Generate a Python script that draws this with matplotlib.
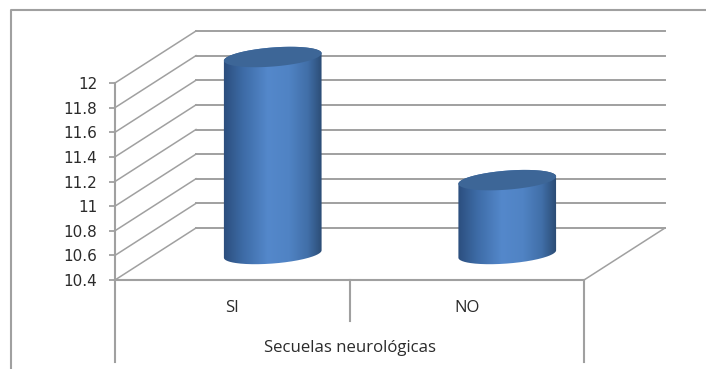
import numpy as np
import matplotlib
matplotlib.use('Agg')
import matplotlib.pyplot as plt
from matplotlib.path import Path
from matplotlib.patches import PathPatch
from matplotlib.colors import LinearSegmentedColormap
from matplotlib.transforms import IdentityTransform, ScaledTranslation

categorias = ['SI', 'NO']
valores = [12, 11]
ticks_y = [10.4, 10.6, 10.8, 11, 11.2, 11.4, 11.6, 11.8, 12]
etiquetas_y = ['10.4', '10.6', '10.8', '11', '11.2', '11.4', '11.6', '11.8', '12']
titulo_eje = 'Secuelas neurológicas'

W, H = 706, 369
GRIS = '#a0a0a0'
TEXTO = '#2b2b2b'
DX, DY = 81, 52   # profundidad del grafico en pixeles
RX, RY = 49, 9.5  # semiejes de la elipse del cilindro
GIRO = np.radians(4.5)

plt.rcParams['font.family'] = 'DejaVu Sans'
fig = plt.figure(figsize=(W / 100, H / 100), dpi=100)
fig.patch.set_facecolor('white')

# plano frontal del grafico
ax = fig.add_axes([115 / W, 1 - 280 / H, (584 - 115) / W, (280 - 83) / H])
ax.set_xlim(-0.5, 1.5)
ax.set_ylim(10.4, 12)
ax.patch.set_visible(False)
for s in ax.spines.values():
    s.set_visible(False)
ax.set_xticks([])
ax.set_yticks(ticks_y)
ax.set_yticklabels(etiquetas_y, fontsize=11, color=TEXTO)
ax.tick_params(axis='y', length=4.3, width=1.3, color=GRIS, pad=8.6)

px = 1 / 100  # pulgadas por pixel
fondo = ax.transData + ScaledTranslation(DX * px, DY * px, fig.dpi_scale_trans)
medio = ax.transData + ScaledTranslation(DX / 2 * px, DY / 2 * px, fig.dpi_scale_trans)

# lineas de la pared del fondo y su diagonal hasta el eje
for t in ticks_y:
    ax.plot([-0.5, 1.5], [t, t], transform=fondo, color=GRIS, lw=1.4, clip_on=False, zorder=1)
    a = ax.transData.transform((-0.5, t))
    ax.plot([a[0], a[0] + DX], [a[1], a[1] + DY], transform=IdentityTransform(),
            color=GRIS, lw=1.1, clip_on=False, zorder=1)

# suelo y ejes
a = ax.transData.transform((1.5, 10.4))
ax.plot([a[0], a[0] + DX], [a[1], a[1] + DY], transform=IdentityTransform(),
        color=GRIS, lw=1.1, clip_on=False, zorder=1)
ax.plot([-0.5, 1.5], [10.4, 10.4], color=GRIS, lw=1.5, clip_on=False, zorder=2)
abajo = ax.transAxes
ax.plot([0, 0], [-0.415, 1], transform=abajo, color=GRIS, lw=1.5, clip_on=False, zorder=2)
ax.plot([1, 1], [-0.415, 0], transform=abajo, color=GRIS, lw=1.5, clip_on=False, zorder=2)
ax.plot([0.5, 0.5], [-0.208, 0], transform=abajo, color=GRIS, lw=1.5, clip_on=False, zorder=2)

# cilindros
degradado = LinearSegmentedColormap.from_list('cil', [
    (0.0, '#2b4d7c'), (0.2, '#3d6ba6'), (0.45, '#5488cb'), (0.66, '#5083c4'),
    (0.85, '#416fa8'), (1.0, '#2a4a72')])
t_el = np.linspace(0, 2 * np.pi, 181)


def elipse(cx, cy):
    ex = RX * np.cos(t_el)
    ey = RY * np.sin(t_el)
    return np.column_stack([cx + ex * np.cos(GIRO) - ey * np.sin(GIRO),
                            cy + ex * np.sin(GIRO) + ey * np.cos(GIRO)])


for i, v in enumerate(valores):
    cx, cy_base = medio.transform((i, 10.4))
    _, cy_top = medio.transform((i, v))
    base = elipse(cx, cy_base)
    tope = elipse(cx, cy_top)
    # silueta del cuerpo: mitad inferior de la base y mitad superior del tope
    ib = np.where(t_el >= np.pi)[0]
    it = np.where(t_el <= np.pi)[0]
    cuerpo = np.vstack([base[ib], tope[it], base[ib[:1]]])
    img = ax.imshow(np.linspace(0, 1, 256)[None, :], cmap=degradado, aspect='auto',
                    extent=[cx - RX - 1, cx + RX + 1, cy_base - RY - 6, cy_top + RY + 6],
                    transform=IdentityTransform(), zorder=3)
    img.set_clip_box(fig.bbox)
    img.set_clip_path(PathPatch(Path(cuerpo), transform=IdentityTransform()))
    ax.add_patch(PathPatch(Path(tope), facecolor='#3d6697', edgecolor='none',
                           transform=IdentityTransform(), zorder=4, clip_on=False))
ax.set_xlim(-0.5, 1.5)
ax.set_ylim(10.4, 12)

# etiquetas de categoria
for i, c in enumerate(categorias):
    ax.annotate(c, (i, 10.4), xytext=(0, -27.5 * 0.72), textcoords='offset points', ha='center',
                va='center', fontsize=12, family='Open Sans', color=TEXTO, annotation_clip=False)
ax.annotate(titulo_eje, (0.5, 10.4), xytext=(0, -68 * 0.72), textcoords='offset points',
            ha='center', va='center', fontsize=12.1, family='Open Sans', color=TEXTO,
            annotation_clip=False)

# marco exterior
fig.add_artist(plt.Line2D([11 / W, 11 / W, 1], [0, 1 - 10 / H, 1 - 10 / H], color=GRIS, lw=1.5))

fig.savefig('out.png', dpi=100)
